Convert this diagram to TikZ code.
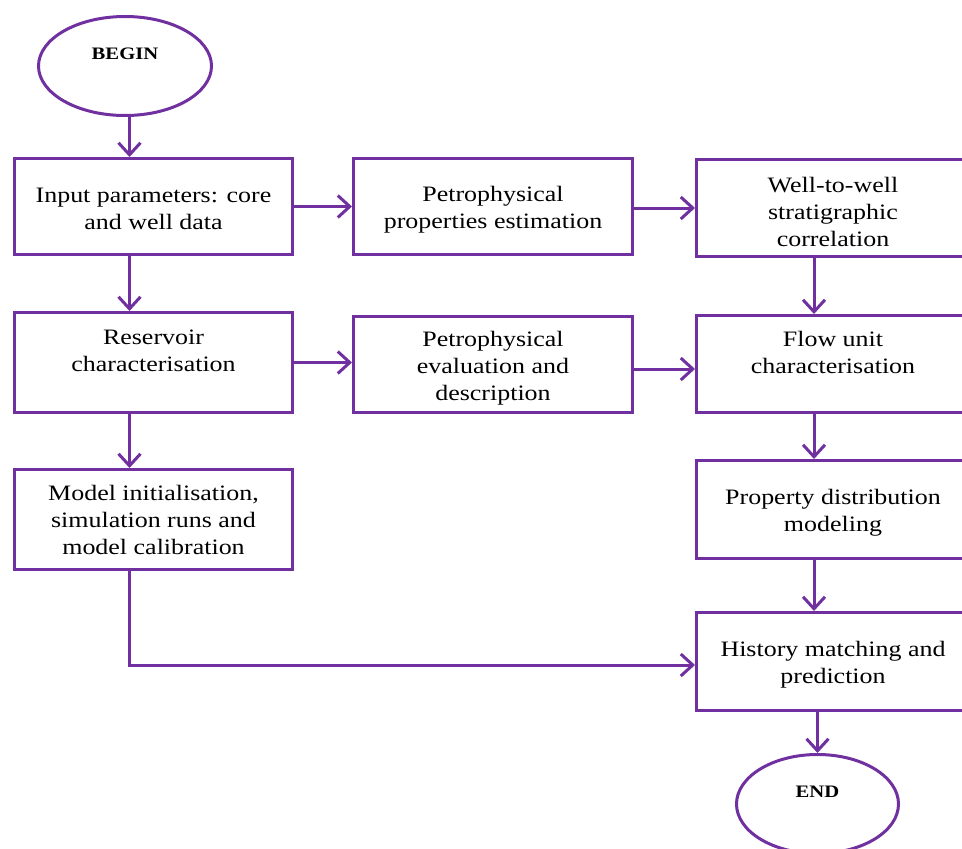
\documentclass[tikz,border=0pt]{standalone}
\usepackage{fontspec}
\setmainfont{Liberation Serif}[FakeStretch=1.18]
\usetikzlibrary{arrows.meta,shapes.geometric}
\definecolor{flowpurple}{HTML}{7030A0}
\begin{document}
\begin{tikzpicture}[x=1pt,y=-1pt,
  box/.style={draw=flowpurple,line width=3pt,rectangle,inner sep=0pt},
  txt/.style={inner sep=0pt,align=center,yshift=-3.5pt,font=\fontsize{22}{27}\selectfont},
  term/.style={draw=flowpurple,line width=3pt,ellipse,inner sep=0pt,
    minimum width=#1,minimum height=99pt,text height=12pt,text depth=26pt,
    font=\bfseries\fontsize{17.5}{20}\selectfont},
  arr/.style={draw=flowpurple,line width=3pt,-{Straight Barb[length=12pt,width=22pt]}}]
\useasboundingbox (0,0) rectangle (962,849);
\clip (0,0) rectangle (962,849);
\node[term=173pt] (begin) at (125,66) {BEGIN};
\node[box,minimum width=278pt,minimum height=96pt,
  label={[txt,yshift=1.5pt,name=t1]center:{Input parameters: core\\and well data}}] (b1) at (153.5,206.5) {};
\node[box,minimum width=279pt,minimum height=96pt,
  label={[txt,name=t2]center:{Petrophysical\\properties estimation}}] (b2) at (493,206.5) {};
\node[box,minimum width=273pt,minimum height=97pt,
  label={[txt,name=t3]center:{Well-to-well\\stratigraphic\\correlation}}] (b3) at (833,208) {};
\node[box,minimum width=278pt,minimum height=100pt,
  label={[txt,yshift=2pt,name=t4]center:{Reservoir\\characterisation\\\mbox{}}}] (b4) at (153.5,362.5) {};
\node[box,minimum width=279pt,minimum height=96pt,
  label={[txt,name=t5]center:{Petrophysical\\evaluation and\\description}}] (b5) at (493,364.5) {};
\node[box,minimum width=273pt,minimum height=97pt,
  label={[txt,yshift=2pt,name=t6]center:{Flow unit\\characterisation\\\mbox{}}}] (b6) at (833,364) {};
\node[box,minimum width=278pt,minimum height=100pt,
  label={[txt,yshift=3pt,name=t7]center:{Model initialisation,\\simulation runs and\\model calibration}}] (b7) at (153.5,519.5) {};
\node[box,minimum width=273pt,minimum height=98pt,
  label={[txt,name=t8]center:{Property distribution\\modeling}}] (b8) at (833,509.5) {};
\node[box,minimum width=273pt,minimum height=98pt,
  label={[txt,name=t9]center:{History matching and\\prediction}}] (b9) at (833,661.5) {};
\node[term=162pt] (end) at (817.5,804) {END};
\coordinate (lx) at (129.5,0);
\coordinate (rx) at (814,0);
\coordinate (r2) at (0,369);
\coordinate (bend) at (0,665);
\draw[arr] (begin.south -| lx) -- (b1.north -| lx);
\draw[arr] (b1.south -| lx) -- (b4.north -| lx);
\draw[arr] (b4.south -| lx) -- (b7.north -| lx);
\draw[arr] (b1.east) -- (b2.west |- b1.east);
\draw[arr] (b2.east |- b3.west) -- (b3.west);
\draw[arr] (b4.east) -- (b5.west |- b4.east);
\draw[arr] (b5.east |- r2) -- (b6.west |- r2);
\draw[arr] (b3.south -| rx) -- (b6.north -| rx);
\draw[arr] (b6.south -| rx) -- (b8.north -| rx);
\draw[arr] (b8.south -| rx) -- (b9.north -| rx);
\draw[arr] (b9.south -| end.north) -- (end.north);
\draw[arr] (b7.south -| lx) |- (b9.west |- bend);
\end{tikzpicture}
\end{document}
